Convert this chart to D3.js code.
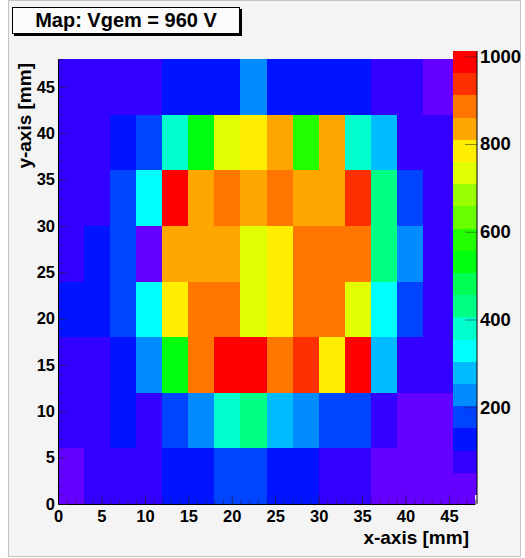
<!DOCTYPE html>
<html>
<head>
<meta charset="utf-8">
<title>Map: Vgem = 960 V</title>
<script src="https://cdn.jsdelivr.net/npm/d3@7"></script>
<style>
  body { margin: 0; background: #fff; }
  svg text { font-family: 'Liberation Sans', Arial, Helvetica, sans-serif; font-weight: bold; fill: #000; }
  .axis .domain { stroke: #000; }
  .axis .tick line { stroke: #222; stroke-opacity: 0.5; }
  .tick text { font-size: 16.5px; }
  .z-axis .tick text { font-size: 18.5px; }
  .axis-title { font-size: 19px; }
</style>
</head>
<body>
<svg id="chart"></svg>
<script>
// bin edges of the 2D histogram (mm)
const xEdges = [0, 3, 6, 9, 12, 15, 18, 21, 24, 27, 30, 33, 36, 39, 42, 45, 48];
const yEdges = [0, 6, 12, 18, 24, 30, 36, 42, 48];

// bin contents, one array per y bin
const rowY0  = [28, 62, 73, 94, 124, 133, 174, 168, 127, 119, 84, 78, 41, 34, 27, 22];
const rowY6  = [76, 85, 132, 89, 181, 236, 377, 427, 284, 229, 176, 169, 83, 42, 36, 31];
const rowY12 = [81, 92, 138, 224, 529, 879, 981, 994, 871, 941, 787, 978, 276, 93, 80, 68];
const rowY18 = [114, 109, 182, 336, 794, 878, 896, 744, 783, 871, 882, 731, 334, 187, 91, 77];
const rowY24 = [74, 121, 176, 44, 829, 847, 851, 736, 791, 889, 893, 881, 432, 231, 86, 72];
const rowY30 = [66, 79, 171, 331, 1012, 832, 884, 846, 892, 841, 836, 938, 428, 184, 82, 70];
const rowY36 = [70, 84, 128, 178, 382, 533, 742, 788, 838, 584, 842, 376, 282, 90, 74, 68];
const rowY42 = [72, 78, 81, 86, 118, 126, 131, 226, 134, 129, 122, 116, 88, 64, 38, 30];
const rows = [rowY0, rowY6, rowY12, rowY18, rowY24, rowY30, rowY36, rowY42];

const xTicks = [0, 5, 10, 15, 20, 25, 30, 35, 40, 45];
const yTicks = [0, 5, 10, 15, 20, 25, 30, 35, 40, 45];
const zTicks = [200, 400, 600, 800, 1000];
const zRange = [0, 1012];
const nContours = 20;

const chartTitle = 'Map: Vgem = 960 V';
const xTitle = 'x-axis [mm]';
const yTitle = 'y-axis [mm]';

class Colz {
  constructor(_config, _data) {
    this.config = {
      parentElement: _config.parentElement,
      containerWidth: _config.containerWidth || 525,
      containerHeight: _config.containerHeight || 558,
      frame: _config.frame || { left: 58, right: 475, top: 59, bottom: 504 },
      palette: _config.palette || { left: 453, right: 477, top: 51, bottom: 495 }
    }
    this.data = _data;
    this.initVis();
  }

  initVis() {
    let vis = this;
    const f = vis.config.frame, p = vis.config.palette;

    vis.svg = d3.select(vis.config.parentElement)
      .attr('width', vis.config.containerWidth)
      .attr('height', vis.config.containerHeight);

    // canvas pad
    vis.svg.append('rect')
      .attr('x', 8.5).attr('y', 0.5)
      .attr('width', 512).attr('height', 556)
      .attr('fill', '#f4f4f4')
      .attr('stroke', '#c4c4c4');

    vis.xScale = d3.scaleLinear().domain([0, 48]).range([f.left, f.right]);
    vis.yScale = d3.scaleLinear().domain([0, 48]).range([f.bottom, f.top]);
    vis.zScale = d3.scaleLinear().domain(zRange).range([p.bottom, p.top]);

    // ROOT "pretty" palette (hue 280 -> 0), picked for 20 contour levels
    const colours = d3.range(nContours).map(k => {
      const idx = Math.floor((k + 0.99) * 50 / nContours);
      return d3.hsl(280 - (idx + 1) * 5.6, 1, 0.5).formatHex();
    });
    vis.colorScale = d3.scaleQuantize().domain(zRange).range(colours);

    vis.cells = vis.svg.append('g').attr('shape-rendering', 'crispEdges');
    vis.paletteG = vis.svg.append('g').attr('shape-rendering', 'crispEdges');

    vis.xAxisMinor = d3.axisBottom(vis.xScale).tickValues(vis.xScale.ticks(48))
      .tickSize(-4.5).tickSizeOuter(0).tickFormat('');
    vis.xAxis = d3.axisBottom(vis.xScale).tickValues(xTicks)
      .tickSize(-9).tickSizeOuter(0).tickPadding(6);
    vis.yAxisMinor = d3.axisLeft(vis.yScale).tickValues(vis.yScale.ticks(48))
      .tickSize(-4.5).tickSizeOuter(0).tickFormat('');
    vis.yAxis = d3.axisLeft(vis.yScale).tickValues(yTicks)
      .tickSize(-9).tickSizeOuter(0).tickPadding(3);
    vis.zAxis = d3.axisRight(vis.zScale).tickValues(zTicks)
      .tickSize(-12).tickSizeOuter(0).tickPadding(3)
      .tickFormat(d3.format('d'));

    // minor tick groups sit beside the major axis groups
    vis.xMinorG = vis.svg.append('g').attr('class', 'axis x-minor')
      .attr('transform', `translate(0,${f.bottom})`);
    vis.yMinorG = vis.svg.append('g').attr('class', 'axis y-minor')
      .attr('transform', `translate(${f.left},0)`);
    vis.xAxisG = vis.svg.append('g').attr('class', 'axis x-axis')
      .attr('transform', `translate(0,${f.bottom})`);
    vis.yAxisG = vis.svg.append('g').attr('class', 'axis y-axis')
      .attr('transform', `translate(${f.left},0)`);
    vis.zAxisG = vis.svg.append('g').attr('class', 'axis z-axis')
      .attr('transform', `translate(${p.right},0)`);

    // axis titles
    vis.svg.append('text')
      .attr('class', 'axis-title')
      .attr('x', 469).attr('y', 544)
      .style('text-anchor', 'end')
      .text(xTitle);

    vis.svg.append('text')
      .attr('class', 'axis-title')
      .attr('transform', 'translate(31,63) rotate(-90)')
      .style('text-anchor', 'end')
      .text(yTitle);

    // title box with ROOT-like shadow
    vis.svg.append('rect')
      .attr('x', 14).attr('y', 9).attr('width', 228).attr('height', 27)
      .attr('fill', '#000');
    vis.svg.append('rect')
      .attr('x', 12.5).attr('y', 7.5).attr('width', 227).attr('height', 26)
      .attr('fill', '#fbfbfb').attr('stroke', '#000');
    vis.svg.append('text')
      .attr('x', 126).attr('y', 27)
      .style('text-anchor', 'middle')
      .style('font-size', '20px')
      .text(chartTitle);
  }

  updateVis() {
    let vis = this;
    vis.binData = [];
    vis.data.forEach((row, j) => {
      row.forEach((v, i) => {
        vis.binData.push({ x0: xEdges[i], x1: xEdges[i + 1], y0: yEdges[j], y1: yEdges[j + 1], value: v });
      });
    });

    // one band per contour level for the palette
    const step = (zRange[1] - zRange[0]) / nContours;
    vis.bands = d3.range(nContours).map(k => ({ lo: zRange[0] + k * step, hi: zRange[0] + (k + 1) * step }));
    vis.renderVis();
  }

  renderVis() {
    let vis = this;

    vis.cells.selectAll('.cell')
      .data(vis.binData)
      .join('rect')
      .attr('class', 'cell')
      .attr('x', d => vis.xScale(d.x0))
      .attr('y', d => vis.yScale(d.y1))
      .attr('width', d => vis.xScale(d.x1) - vis.xScale(d.x0))
      .attr('height', d => vis.yScale(d.y0) - vis.yScale(d.y1))
      .attr('fill', d => vis.colorScale(d.value));

    vis.paletteG.selectAll('.band')
      .data(vis.bands)
      .join('rect')
      .attr('class', 'band')
      .attr('x', vis.config.palette.left)
      .attr('width', vis.config.palette.right - vis.config.palette.left)
      .attr('y', d => vis.zScale(d.hi))
      .attr('height', d => vis.zScale(d.lo) - vis.zScale(d.hi))
      .attr('fill', d => vis.colorScale((d.lo + d.hi) / 2));

    vis.xMinorG.call(vis.xAxisMinor).call(g => g.select('.domain').remove());
    vis.yMinorG.call(vis.yAxisMinor).call(g => g.select('.domain').remove());
    vis.xAxisG.call(vis.xAxis);
    vis.yAxisG.call(vis.yAxis);
    vis.zAxisG.call(vis.zAxis)
      .call(g => g.select('.domain').remove());

    // palette axis line runs down to the frame bottom
    vis.zAxisG.append('line')
      .attr('y1', vis.zScale(zRange[1]))
      .attr('y2', vis.yScale(0))
      .attr('stroke', '#000');

    vis.svg.selectAll('.axis text').attr('font-family', null).attr('font-size', null);
  }
}

const colz = new Colz({ parentElement: '#chart' }, rows);
colz.updateVis();
</script>
</body>
</html>
